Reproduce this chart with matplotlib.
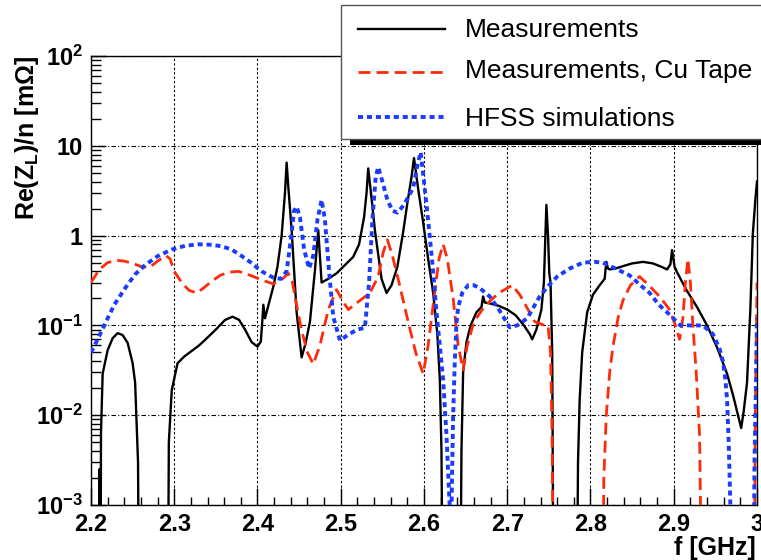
import matplotlib
matplotlib.use("Agg")
import matplotlib.pyplot as plt
from matplotlib.lines import Line2D
from matplotlib.patches import Rectangle
from matplotlib.ticker import FixedLocator, FixedFormatter, LogLocator, MultipleLocator, NullFormatter

plt.rcParams["font.family"] = ["Liberation Sans", "DejaVu Sans"]
plt.rcParams["mathtext.fontset"] = "custom"
plt.rcParams["mathtext.rm"] = "Liberation Sans:bold"
plt.rcParams["mathtext.it"] = "Liberation Sans:bold"
plt.rcParams["mathtext.bf"] = "Liberation Sans:bold"
plt.rcParams["mathtext.default"] = "rm"

LOW = 1e-5  # below the axis: curve leaves the frame

# Measurements (black)
f_meas = [2.2098, 2.2100, 2.2102, 2.2112, 2.212, 2.214, 2.22, 2.226, 2.232, 2.238,
          2.244, 2.250, 2.253, 2.2565, 2.258,
          2.292, 2.2935, 2.297, 2.304, 2.312, 2.321, 2.33, 2.337, 2.35, 2.361,
          2.37, 2.378, 2.385, 2.393, 2.4, 2.404, 2.406, 2.407, 2.409, 2.414,
          2.419, 2.424, 2.429, 2.433, 2.435, 2.437, 2.441, 2.447, 2.453, 2.458,
          2.463, 2.469, 2.471, 2.473, 2.475, 2.477, 2.485, 2.495, 2.505, 2.515,
          2.522, 2.528, 2.531, 2.533, 2.537, 2.541, 2.549, 2.555, 2.561, 2.568,
          2.575, 2.58, 2.585, 2.588, 2.593, 2.599, 2.605, 2.611, 2.616, 2.619,
          2.621, 2.623,
          2.643, 2.645, 2.647, 2.651, 2.656, 2.663, 2.669, 2.671, 2.673, 2.68,
          2.69, 2.70, 2.71, 2.72, 2.727, 2.730, 2.735, 2.741, 2.744, 2.747,
          2.749, 2.7505, 2.752, 2.754, 2.756,
          2.783, 2.785, 2.787, 2.790, 2.796, 2.803, 2.811, 2.817, 2.819, 2.821,
          2.823, 2.83, 2.84, 2.85, 2.863, 2.875, 2.885, 2.892, 2.896, 2.898,
          2.901, 2.904, 2.915, 2.928, 2.94, 2.952, 2.964, 2.971, 2.976, 2.981,
          2.984, 2.988, 2.992, 2.995, 2.998, 3.0]
z_meas = [LOW, 0.0025, LOW, LOW, 0.0063, 0.029, 0.053, 0.072, 0.082, 0.078,
          0.064, 0.038, 0.023, 0.003, LOW,
          LOW, 0.005, 0.019, 0.038, 0.045, 0.052, 0.06, 0.069, 0.09, 0.115,
          0.125, 0.115, 0.09, 0.065, 0.058, 0.066, 0.12, 0.17, 0.12, 0.18,
          0.27, 0.45, 1.0, 3.0, 6.5, 3.5, 1.15, 0.14, 0.044, 0.065,
          0.11, 0.41, 0.7, 1.15, 0.6, 0.3, 0.33, 0.38, 0.47, 0.58,
          0.8, 1.6, 3.0, 5.6, 2.6, 1.15, 0.33, 0.23, 0.28, 0.45,
          1.1, 2.3, 4.5, 7.3, 3.3, 1.4, 0.55, 0.23, 0.08, 0.025,
          0.004, LOW,
          LOW, 0.004, 0.03, 0.065, 0.1, 0.14, 0.16, 0.21, 0.18, 0.175,
          0.165, 0.15, 0.13, 0.1, 0.08, 0.07, 0.09, 0.15, 0.3, 2.2,
          1.0, 0.38, 0.3, 0.05, LOW,
          LOW, 0.003, 0.015, 0.05, 0.14, 0.22, 0.28, 0.33, 0.51, 0.43,
          0.42, 0.43, 0.46, 0.49, 0.51, 0.49, 0.45, 0.42, 0.48, 0.69,
          0.45, 0.39, 0.25, 0.16, 0.1, 0.057, 0.029, 0.017, 0.011, 0.0072,
          0.011, 0.023, 0.15, 1.05, 2.5, 4.0]

# Measurements, Cu Tape (red)
f_cu = [2.2, 2.21, 2.22, 2.23, 2.24, 2.25, 2.261, 2.27, 2.28, 2.29,
        2.295, 2.30, 2.31, 2.318, 2.327, 2.335, 2.345, 2.355, 2.365, 2.377,
        2.385, 2.395, 2.405, 2.419, 2.43, 2.437, 2.442, 2.448, 2.453, 2.46,
        2.467, 2.475, 2.485, 2.495, 2.502, 2.509, 2.52, 2.535, 2.545, 2.551,
        2.556, 2.562, 2.57, 2.58, 2.59, 2.599, 2.605, 2.612, 2.618, 2.623,
        2.628, 2.635, 2.641, 2.647, 2.652, 2.66, 2.67, 2.68, 2.69, 2.706,
        2.715, 2.725, 2.733, 2.739, 2.745, 2.749, 2.752, 2.754, 2.756,
        2.814, 2.816, 2.819, 2.823, 2.827, 2.833, 2.839, 2.848, 2.859, 2.87,
        2.883, 2.895, 2.902, 2.907, 2.911, 2.914, 2.917, 2.92, 2.923, 2.927,
        2.931, 2.935,
        2.996, 2.998, 3.0]
z_cu = [0.3, 0.42, 0.5, 0.53, 0.52, 0.49, 0.45, 0.44, 0.52, 0.6,
        0.55, 0.4, 0.29, 0.245, 0.23, 0.26, 0.31, 0.36, 0.39, 0.4,
        0.38, 0.35, 0.32, 0.29, 0.33, 0.38, 0.3, 0.15, 0.088, 0.05,
        0.037, 0.06, 0.15, 0.25, 0.19, 0.15, 0.18, 0.23, 0.35, 0.65,
        0.9, 0.6, 0.3, 0.12, 0.05, 0.029, 0.06, 0.2, 0.55, 0.8,
        0.55, 0.2, 0.06, 0.032, 0.06, 0.11, 0.15, 0.19, 0.23, 0.28,
        0.22, 0.15, 0.11, 0.105, 0.1, 0.1, 0.05, 0.005, LOW,
        LOW, 0.002, 0.01, 0.03, 0.058, 0.12, 0.19, 0.28, 0.35, 0.28,
        0.21, 0.15, 0.1, 0.07, 0.12, 0.3, 0.55, 0.3, 0.1, 0.03,
        0.006, LOW,
        LOW, 0.01, 0.3]

# HFSS simulations (blue)
f_hfss = [2.2, 2.208, 2.217, 2.228, 2.241, 2.253, 2.265, 2.28, 2.297, 2.313,
          2.329, 2.345, 2.357, 2.369, 2.38, 2.391, 2.405, 2.419, 2.428, 2.435,
          2.44, 2.444, 2.447, 2.451, 2.456, 2.462, 2.467, 2.472, 2.477, 2.481,
          2.486, 2.491, 2.499, 2.51, 2.52, 2.529, 2.534, 2.538, 2.542, 2.545,
          2.55, 2.556, 2.562, 2.568, 2.576, 2.582, 2.587, 2.592, 2.596, 2.6,
          2.604, 2.607, 2.611, 2.615, 2.619, 2.623, 2.627, 2.631, 2.633, 2.635,
          2.637, 2.639, 2.641, 2.646, 2.653, 2.66, 2.667, 2.679, 2.69, 2.703,
          2.712, 2.724, 2.739, 2.75, 2.76, 2.775, 2.791, 2.805, 2.815, 2.83,
          2.847, 2.86, 2.871, 2.882, 2.892, 2.908, 2.922, 2.935, 2.947, 2.955,
          2.959, 2.962, 2.964, 2.966, 2.968, 2.969,
          2.995, 2.997, 2.999, 3.0]
z_hfss = [0.05, 0.07, 0.105, 0.17, 0.26, 0.37, 0.47, 0.59, 0.7, 0.77,
          0.8, 0.79, 0.76, 0.7, 0.6, 0.51, 0.4, 0.34, 0.33, 0.4,
          0.9, 1.9, 2.1, 1.6, 0.7, 0.43, 0.6, 1.5, 2.5, 1.5,
          0.4, 0.125, 0.068, 0.08, 0.09, 0.094, 0.3, 1.5, 4.5, 5.8,
          4.0, 2.5, 1.9, 1.8, 2.2, 2.8, 3.4, 6.0, 8.5, 4.0,
          1.8, 0.96, 0.4, 0.14, 0.06, 0.025, 0.006, 0.0009, 0.0009, 0.01,
          0.04, 0.105, 0.16, 0.23, 0.28, 0.28, 0.26, 0.21, 0.15, 0.095,
          0.1, 0.12, 0.21, 0.28, 0.35, 0.43, 0.5, 0.51, 0.5, 0.43,
          0.36, 0.28, 0.23, 0.17, 0.14, 0.1, 0.1, 0.1, 0.08, 0.055,
          0.04, 0.025, 0.015, 0.005, 0.001, LOW,
          LOW, 0.003, 0.03, 0.12]

x_ticks = [2.2, 2.3, 2.4, 2.5, 2.6, 2.7, 2.8, 2.9, 3.0]
x_labels = ["2.2", "2.3", "2.4", "2.5", "2.6", "2.7", "2.8", "2.9", "3"]
y_ticks = [1e-3, 1e-2, 1e-1, 1, 10, 100]
y_labels = [r"$10^{-3}$", r"$10^{-2}$", r"$10^{-1}$", "1", "10", r"$10^{2}$"]

RED = "#ff2a0a"
BLUE = "#1a3cff"
STYLES = {
    "meas": dict(color="black", lw=1.7, ls="-"),
    "cu":   dict(color=RED, lw=2.0, ls=(0, (4.3, 2.2))),
    "hfss": dict(color=BLUE, lw=2.8, ls=(0, (1.3, 1.0))),
}

W, H = 761, 560
fig = plt.figure(figsize=(W / 100, H / 100), dpi=100)
ax = fig.add_axes([91 / W, 55 / H, 666 / W, 449 / H])

ax.plot(f_meas, z_meas, zorder=3, **STYLES["meas"])
ax.plot(f_cu, z_cu, zorder=4, **STYLES["cu"])
ax.plot(f_hfss, z_hfss, zorder=5, **STYLES["hfss"])

ax.set_yscale("log")
ax.set_xlim(2.2, 3.0)
ax.set_ylim(1e-3, 1e2)

ax.xaxis.set_major_locator(FixedLocator(x_ticks))
ax.xaxis.set_major_formatter(FixedFormatter(x_labels))
ax.xaxis.set_minor_locator(MultipleLocator(0.02))
ax.yaxis.set_major_locator(FixedLocator(y_ticks))
ax.yaxis.set_major_formatter(FixedFormatter(y_labels))
ax.yaxis.set_minor_locator(LogLocator(base=10, subs=range(2, 10), numticks=20))
ax.yaxis.set_minor_formatter(NullFormatter())

ax.tick_params(which="both", direction="in", top=False, right=False, width=1)
ax.tick_params(axis="y", which="major", length=11, pad=6, labelsize=17)
ax.tick_params(axis="y", which="minor", length=7)
ax.tick_params(axis="x", which="major", length=12, pad=6, labelsize=17)
ax.tick_params(axis="x", which="minor", length=6)
for lab in ax.get_xticklabels() + ax.get_yticklabels():
    lab.set_fontweight("bold")

ax.xaxis.grid(True, which="major", color="black", lw=0.8, ls=(0, (2, 2)))
ax.yaxis.grid(True, which="major", color="black", lw=0.8, ls=(0, (4, 2, 1, 2)))
for sp in ax.spines.values():
    sp.set_linewidth(1.0)

# axis titles, ROOT style (right / top aligned)
fig.text(27 / W, 1 - 56 / H, "Re(Z$_{L}$)/n [mΩ]", rotation=90, ha="center",
         va="top", fontsize=18, fontweight="bold")
fig.text(756 / W, 1 - 548 / H, "f [GHz]", ha="right", va="center",
         fontsize=18, fontweight="bold")

# legend box with shadow
fx = lambda px: px / W
fy = lambda py: 1 - py / H
fig.add_artist(Rectangle((fx(350), fy(145)), fx(430), (145 - 14) / H,
                         transform=fig.transFigure, facecolor="black",
                         edgecolor="none", zorder=10))
fig.add_artist(Rectangle((fx(341), fy(139)), fx(440), (139 - 5) / H,
                         transform=fig.transFigure, facecolor="white",
                         edgecolor="#555555", lw=1.0, zorder=11))
entries = [("meas", "Measurements", 29, 30),
           ("cu", "Measurements, Cu Tape", 72, 71),
           ("hfss", "HFSS simulations", 117, 119)]
for key, label, ly, ty in entries:
    fig.add_artist(Line2D([fx(358), fx(445)], [fy(ly), fy(ly)],
                          transform=fig.transFigure, zorder=12, **STYLES[key]))
    fig.text(fx(465), fy(ty), label, ha="left", va="center", fontsize=19,
             zorder=13)

fig.savefig("out.png", dpi=100)
